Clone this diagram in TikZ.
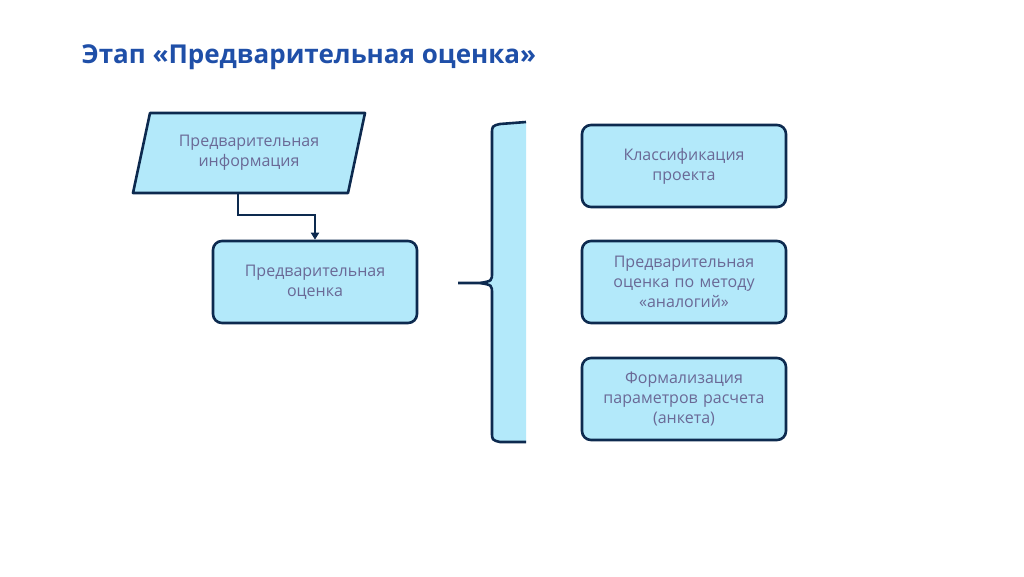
\documentclass[tikz,border=0pt]{standalone}
\usepackage{fontspec}
\setmainfont{Open Sans}
\usetikzlibrary{arrows.meta}
\definecolor{boxfill}{HTML}{B3E9FA}
\definecolor{boxline}{HTML}{0D2A4F}
\definecolor{boxtext}{HTML}{6A6996}
\definecolor{titleblue}{HTML}{1F4FA8}
\tikzset{
  box/.style={draw=boxline, fill=boxfill, line width=2.6pt, rounded corners=9pt,
    minimum width=204pt, minimum height=82pt, text width=190pt, align=center,
    text=boxtext, font=\fontsize{16}{20}\selectfont},
  lbl/.style={text=boxtext, align=center, font=\fontsize{16}{20}\selectfont}
}
\begin{document}
\begin{tikzpicture}[x=1pt, y=-1pt]
	\useasboundingbox (0,0) rectangle (1024,576);
	\node[anchor=west, text=titleblue, font=\fontsize{26}{30}\selectfont\bfseries] (title) at (78,57) {Этап «Предварительная оценка»};
	% input
	\draw[boxline, fill=boxfill, line width=2.6pt, line join=round] (150,113) -- (365,113) -- (348,193) -- (133,193) -- cycle;
	\node[lbl] (info) at (249,153) {Предварительная\\информация};
	\node[box] (est) at (315,282) {Предварительная\\оценка};
	\coordinate (out) at (238,193);
	\draw[boxline, line width=2.6pt, -{Triangle[length=7pt,width=8pt]}] (out) |- (315,215) -- (est.north);
	% brace
	\fill[boxfill] (526,122) -- (500,124) .. controls (492,126) .. (492,134) -- (492,272)
	  .. controls (492,281) .. (480,283) .. controls (492,285) .. (492,294) -- (492,432)
	  .. controls (492,440) .. (500,442) -- (526,442) -- cycle;
	\draw[boxline, line width=2.6pt] (526,122) -- (500,124) .. controls (492,126) .. (492,134) -- (492,272)
	  .. controls (492,281) .. (480,283) -- (458,283);
	\draw[boxline, line width=2.6pt] (480,283) .. controls (492,285) .. (492,294) -- (492,432)
	  .. controls (492,440) .. (500,442) -- (526,442);
	% results
	\node[box] (cls) at (684,166) {Классификация\\проекта};
	\node[box] (analog) at (684,282) {Предварительная\\оценка по методу\\«аналогий»};
	\node[box] (form) at (684,399) {Формализация\\параметров расчета\\(анкета)};
\end{tikzpicture}
\end{document}
